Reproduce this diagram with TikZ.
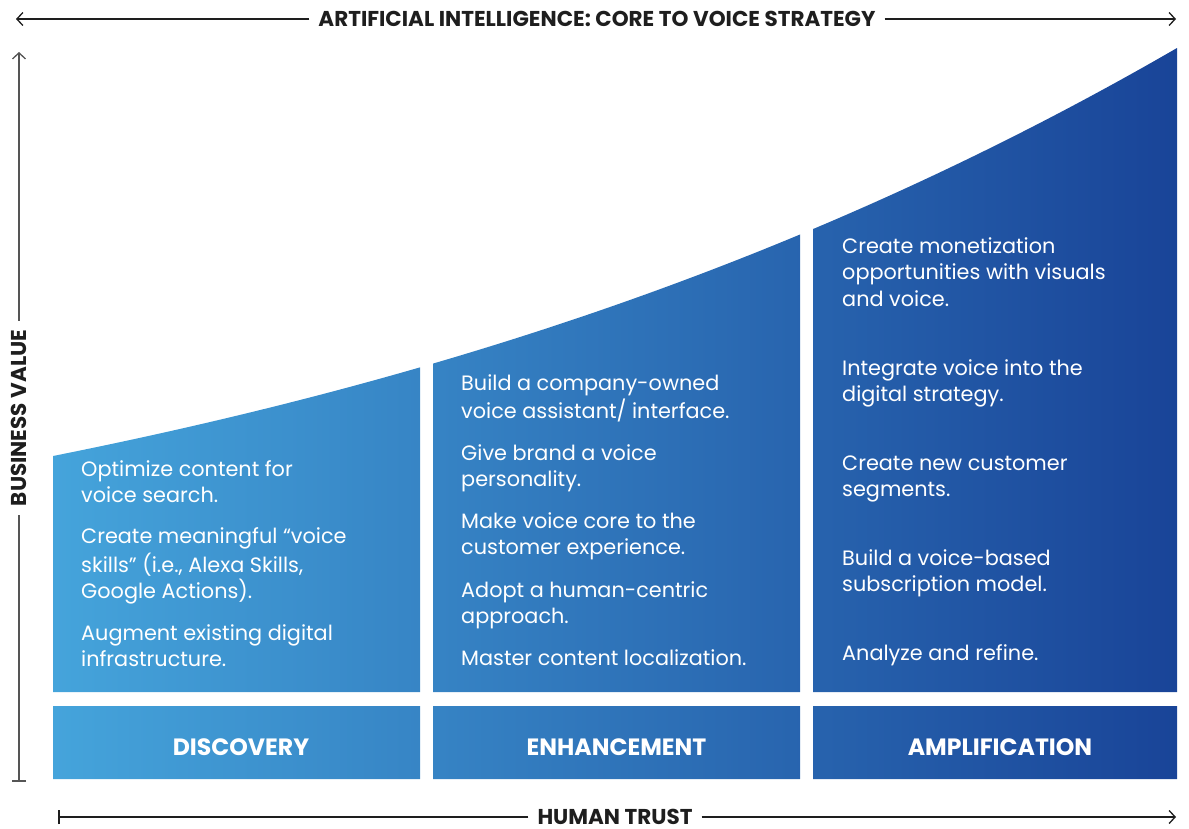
\documentclass[tikz,border=0pt]{standalone}
\usepackage{fontspec}
\setmainfont{Poppins}
\usetikzlibrary{arrows.meta}
\definecolor{blueL}{RGB}{69,164,219}
\definecolor{blueR}{RGB}{25,68,152}
\definecolor{axisink}{RGB}{30,30,30}
\definecolor{axisgray}{RGB}{85,85,85}
\begin{document}
\begin{tikzpicture}[x=1pt,y=-1pt,
  body/.style={anchor=west, align=left, text=white, font=\fontsize{20.8}{26.3}\selectfont, inner sep=0pt},
  stage/.style={text=white, font=\bfseries\fontsize{23.6}{26}\selectfont, inner sep=0pt},
  axislabel/.style={font=\bfseries\fontsize{21.5}{24}\selectfont, text=axisink, inner xsep=9pt, inner ysep=0pt},
  axline/.style={line width=1.3pt, draw=axisink},
  vline/.style={line width=2pt, draw=axisgray},
  tip/.style={-{Straight Barb[length=6pt,width=13pt,line width=1.3pt]}},
  bartip/.style={-{Bar[width=14pt,line width=2pt]}}
]
\useasboundingbox (0,0) rectangle (1189,828);
% coloured columns with a continuous horizontal gradient
\begin{scope}
  \clip (53,800) -- (53,456) .. controls (428,381) and (802,265) .. (1177,48) -- (1177,800) -- cycle;
  \shade[left color=blueL,right color=blueR]
    (53,40) rectangle (420,692) (433,40) rectangle (800,692) (813,40) rectangle (1177,692)
    (53,706) rectangle (420,779) (433,706) rectangle (800,779) (813,706) rectangle (1177,779);
\end{scope}

% stage labels
\node[stage] (disc) at (241,747) {DISCOVERY};
\node[stage] (enh) at (616.5,747) {ENHANCEMENT};
\node[stage] (amp) at (1000,747) {AMPLIFICATION};

% column 1
\node[body] (c1a) at (81,484) {\strut Optimize content for\\voice search.\strut};
\node[body] (c1b) at (81,566) {\strut Create meaningful “voice\\skills” (i.e., Alexa Skills,\\Google Actions).\strut};
\node[body] (c1c) at (81,648) {\strut Augment existing digital\\infrastructure.\strut};

% column 2
\node[body] (c2a) at (461,399) {\strut Build a company-owned\\voice assistant/ interface.\strut};
\node[body] (c2b) at (461,468) {\strut Give brand a voice\\personality.\strut};
\node[body] (c2c) at (461,536.5) {\strut Make voice core to the\\customer experience.\strut};
\node[body] (c2d) at (461,605) {\strut Adopt a human-centric\\approach.\strut};
\node[body] (c2e) at (461,660) {\strut Master content localization.\strut};

% column 3
\node[body] (c3a) at (842,274.5) {\strut Create monetization\\opportunities with visuals\\and voice.\strut};
\node[body] (c3b) at (842,383) {\strut Integrate voice into the\\digital strategy.\strut};
\node[body] (c3c) at (842,478.5) {\strut Create new customer\\segments.\strut};
\node[body] (c3d) at (842,573) {\strut Build a voice-based\\subscription model.\strut};
\node[body] (c3e) at (842,655) {\strut Analyze and refine.\strut};

% top axis
\node[axislabel] (ai) at (597,19) {ARTIFICIAL INTELLIGENCE: CORE TO VOICE STRATEGY};
\coordinate (aiL) at (16,19);
\coordinate (aiR) at (1176,19);
\draw[axline,tip] (ai.west) -- (aiL);
\draw[axline,tip] (ai.east) -- (aiR);

% vertical axis
\node[axislabel, rotate=90] (bv) at (19,418) {BUSINESS VALUE};
\coordinate (bvT) at (19,52);
\coordinate (bvB) at (19,782);
\draw[vline,tip] (bv.east) -- (bvT);
\draw[vline,bartip] (bv.west) -- (bvB);

% bottom axis
\node[axislabel] (ht) at (615,817) {HUMAN TRUST};
\coordinate (htL) at (58,817);
\coordinate (htR) at (1176,817);
\draw[axline,bartip] (ht.west) -- (htL);
\draw[axline,tip] (ht.east) -- (htR);
\end{tikzpicture}
\end{document}
